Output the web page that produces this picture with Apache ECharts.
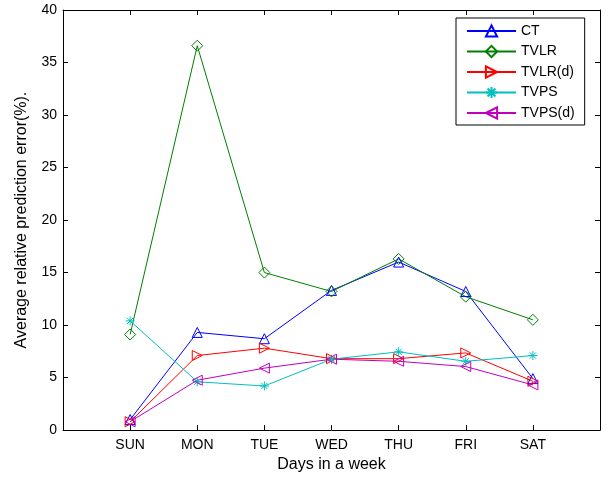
<!DOCTYPE html>
<html>
<head>
<meta charset="utf-8">
<script src="https://cdn.jsdelivr.net/npm/echarts@6/dist/echarts.min.js"></script>
<style>html,body{margin:0;padding:0;background:#fff;}#c{width:608px;height:478px;}</style>
</head>
<body>
<div id="c"></div>
<script>
var categories = ['SUN','MON','TUE','WED','THU','FRI','SAT'];
var ct      = [1.0, 9.3, 8.7, 13.3, 16.0, 13.2, 4.9];
var tvlr    = [9.1, 36.6, 15.0, 13.2, 16.3, 12.7, 10.5];
var tvlrd   = [0.8, 7.1, 7.8, 6.8, 6.8, 7.35, 4.65];
var tvps    = [10.4, 4.6, 4.2, 6.75, 7.45, 6.55, 7.1];
var tvpsd   = [0.8, 4.75, 5.9, 6.75, 6.55, 6.05, 4.3];
var yTicks  = [0,5,10,15,20,25,30,35,40];

var font = 'Liberation Sans, Arial, sans-serif';
function pts(arr){ return categories.map(function(c,i){ return [i+1, arr[i]]; }); }
var star = 'path://M0,-10L0,10M-10,0L10,0M-7,-7L7,7M-7,7L7,-7';

function mk(name, arr, color, symbol, rot, size){
  return {
    name: name, type: 'line', data: pts(arr),
    symbol: symbol, symbolSize: size, symbolRotate: rot,
    showAllSymbol: true,
    lineStyle: {color: color, width: 1},
    itemStyle: {color: 'rgba(255,255,255,0)', borderColor: color, borderWidth: 1},
    emphasis: {disabled: true},
    animation: false
  };
}

var chart = echarts.init(document.getElementById('c'), null, {renderer: 'canvas'});
chart.setOption({
  backgroundColor: '#fff',
  animation: false,
  grid: {left: 63, right: 8, top: 10, bottom: 46},
  xAxis: [{
    type: 'value', min: 0, max: 8, interval: 1,
    name: 'Days in a week', nameLocation: 'middle', nameGap: 26,
    nameTextStyle: {color: '#000', fontSize: 16, fontFamily: font},
    axisLine: {onZero: false, lineStyle: {color: '#000', width: 1}},
    axisTick: {inside: true, length: 5, lineStyle: {color: '#000'}},
    axisLabel: {color: '#000', fontSize: 14, fontFamily: font, margin: 8,
      formatter: function(v){ return (v>=1 && v<=7) ? categories[v-1] : ''; }},
    splitLine: {show: false}
  },{
    type: 'value', min: 0, max: 8, interval: 1, position: 'top',
    axisLine: {onZero: false, lineStyle: {color: '#000', width: 1}},
    axisTick: {inside: true, length: 5, lineStyle: {color: '#000'}},
    axisLabel: {show: false}, splitLine: {show: false}
  }],
  yAxis: [{
    type: 'value', min: 0, max: 40, interval: 5,
    name: 'Average relative prediction error(%).', nameLocation: 'middle', nameGap: 33,
    nameTextStyle: {color: '#000', fontSize: 16, fontFamily: font},
    axisLine: {show: true, onZero: false, lineStyle: {color: '#000', width: 1}},
    axisTick: {show: true, inside: true, length: 5, lineStyle: {color: '#000'}},
    axisLabel: {color: '#000', fontSize: 14, fontFamily: font, margin: 6,
      formatter: function(v){ return yTicks.indexOf(v) >= 0 ? String(v) : ''; }},
    splitLine: {show: false}
  },{
    type: 'value', min: 0, max: 40, interval: 5, position: 'right',
    axisLine: {show: true, onZero: false, lineStyle: {color: '#000', width: 1}},
    axisTick: {show: true, inside: true, length: 5, lineStyle: {color: '#000'}},
    axisLabel: {show: false}, splitLine: {show: false}
  }],
  legend: {
    orient: 'vertical', left: 456, top: 18,
    width: 128,
    borderColor: '#000', borderWidth: 1, backgroundColor: '#fff',
    padding: [6, 10, 5, 10],
    itemGap: 6.5, itemWidth: 49, itemHeight: 14,
    textStyle: {color: '#000', fontSize: 14, fontFamily: font},
    data: ['CT','TVLR','TVLR(d)','TVPS','TVPS(d)']
  },
  series: [
    mk('CT', ct, '#0000ff', 'triangle', 0, 10),
    mk('TVLR', tvlr, '#008000', 'diamond', 0, 11),
    mk('TVLR(d)', tvlrd, '#ff0000', 'triangle', -90, 10),
    mk('TVPS', tvps, '#00bfbf', star, 0, 9),
    mk('TVPS(d)', tvpsd, '#bf00bf', 'triangle', 90, 10)
  ]
});
</script>
</body>
</html>
